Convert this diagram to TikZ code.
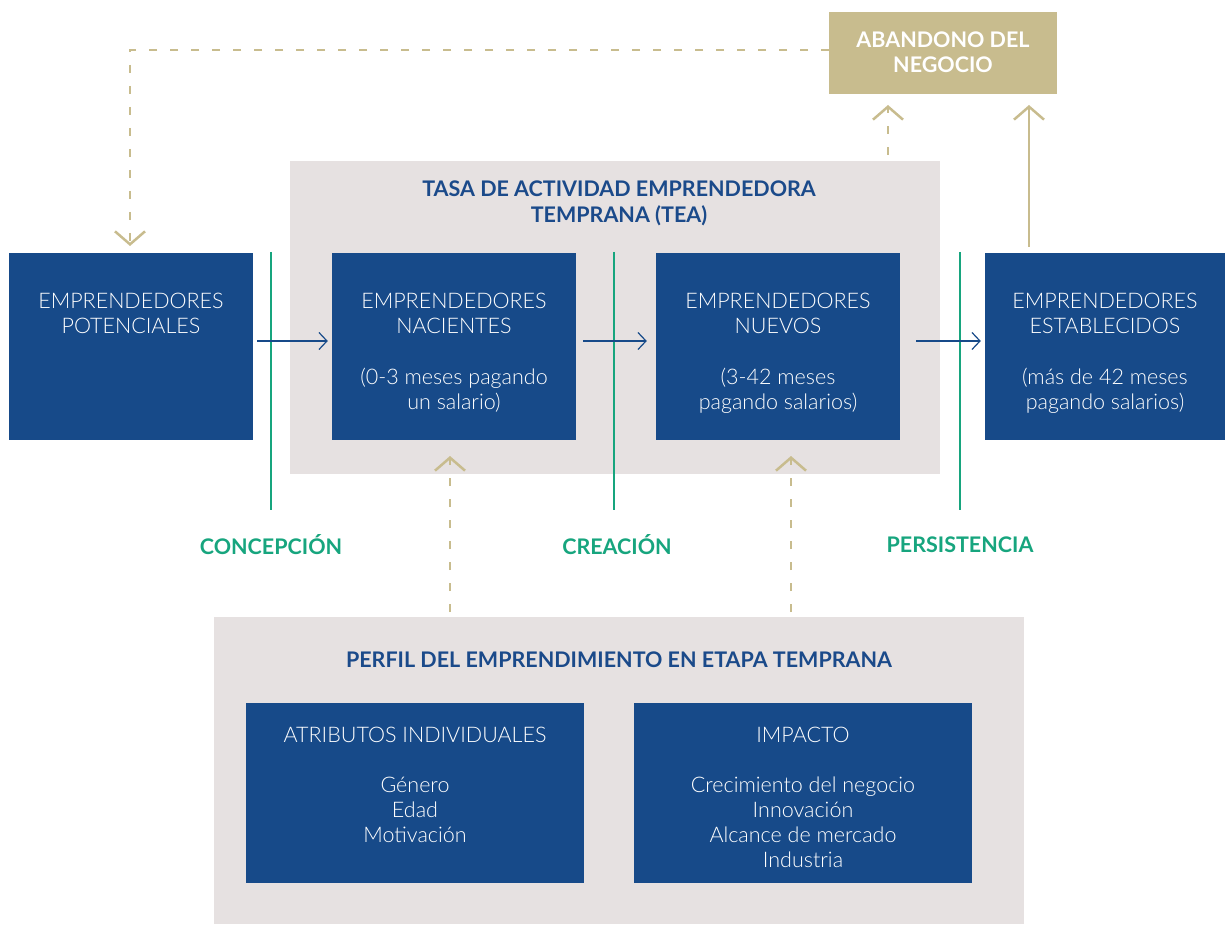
\documentclass[tikz,border=0pt]{standalone}
\usepackage{fontspec}
\setmainfont{Lato}[UprightFont=* Light, BoldFont=* Bold]
\usetikzlibrary{arrows.meta,calc}
\definecolor{boxblue}{HTML}{174A89}
\definecolor{titleblue}{HTML}{1B4A8A}
\definecolor{panelgray}{HTML}{E6E1E1}
\definecolor{gold}{HTML}{C8BC8E}
\definecolor{stagegreen}{HTML}{17A57E}
\tikzset{
  panel/.style={fill=panelgray, inner sep=0pt},
  bluebox/.style={fill=boxblue, inner sep=0pt},
  boxtext/.style={text=white, align=center, font=\fontsize{21.5}{25}\selectfont},
  paneltitle/.style={text=titleblue, align=center, font=\bfseries\fontsize{21.5}{26}\selectfont},
  stagelabel/.style={text=stagegreen, font=\bfseries\fontsize{21.5}{22}\selectfont},
  stageline/.style={draw=stagegreen, line width=2.5pt},
  flow/.style={draw=boxblue, line width=1.2pt, -{Straight Barb[length=8pt,width=17pt,line width=1.2pt]}},
  exitline/.style={draw=gold, line width=2.5pt, -{Straight Barb[length=13pt,width=30pt,line width=2.5pt]}},
  exitdash/.style={exitline, dash pattern=on 8pt off 13pt},
}
\begin{document}
\begin{tikzpicture}[x=1pt,y=-1pt]
\useasboundingbox (0,0) rectangle (1225,925);

% grey panels
\node[panel, minimum width=650pt, minimum height=313pt] (tea) at (615,317.5) {};
\node[panel, minimum width=810pt, minimum height=307pt] (perfil) at (619,770.5) {};

% stage boxes
\node[bluebox, minimum width=244pt, minimum height=187pt] (pot) at (131,346.5) {};
\node[bluebox, minimum width=244pt, minimum height=187pt] (nac) at (454,346.5) {};
\node[bluebox, minimum width=244pt, minimum height=187pt] (nue) at (778,346.5) {};
\node[bluebox, minimum width=240pt, minimum height=187pt] (est) at (1105,346.5) {};

% exit box
\node[fill=gold, minimum width=228pt, minimum height=82pt, inner sep=0pt] (ab) at (943,53) {};
\node[text=white, align=center, font=\bfseries\fontsize{21.5}{25}\selectfont] (abt) at (943,52.5) {ABANDONO DEL\\NEGOCIO};

% profile boxes
\node[bluebox, minimum width=338pt, minimum height=180pt] (atr) at (415,793) {};
\node[bluebox, minimum width=338pt, minimum height=180pt] (imp) at (803,793) {};

% panel titles
\node[paneltitle] (teat) at (619,203) {TASA DE ACTIVIDAD EMPRENDEDORA\\TEMPRANA (TEA)};
\node[paneltitle] (perfilt) at (619,660) {PERFIL DEL EMPRENDIMIENTO EN ETAPA TEMPRANA};

% box texts
\node[boxtext] (pott) at (131,313.5) {EMPRENDEDORES\\POTENCIALES};
\node[boxtext] (nact) at (454,313.5) {EMPRENDEDORES\\NACIENTES};
\node[boxtext] (nacs) at (454,390.5) {(0-3 meses pagando\\un salario)};
\node[boxtext] (nuet) at (778,313.5) {EMPRENDEDORES\\NUEVOS};
\node[boxtext] (nues) at (778,390.5) {(3-42 meses\\pagando salarios)};
\node[boxtext] (estt) at (1105,313.5) {EMPRENDEDORES\\ESTABLECIDOS};
\node[boxtext] (ests) at (1105,390.5) {(más de 42 meses\\pagando salarios)};

\node[boxtext] (atrt) at (415,735) {ATRIBUTOS INDIVIDUALES};
\node[boxtext] (atrs) at (415,810) {Género\\Edad\\Motivación};
\node[boxtext] (impt) at (803,735) {IMPACTO};
\node[boxtext] (imps) at (803,822.5) {Crecimiento del negocio\\Innovación\\Alcance de mercado\\Industria};

% stage boundaries
\coordinate (g1a) at (271,252); \coordinate (g1b) at (271,510);
\coordinate (g2a) at (614,252); \coordinate (g2b) at (614,510);
\coordinate (g3a) at (960,252); \coordinate (g3b) at (960,510);
\draw[stageline] (g1a) -- (g1b);
\draw[stageline] (g2a) -- (g2b);
\draw[stageline] (g3a) -- (g3b);
\node[stagelabel] (l1) at (271,545) {CONCEPCIÓN};
\node[stagelabel] (l2) at (617,545) {CREACIÓN};
\node[stagelabel] (l3) at (960,545) {PERSISTENCIA};

% forward flow
\draw[flow, shorten <=4pt, shorten >=4pt] (pot.east |- 0,341) -- (nac.west |- 0,341);
\draw[flow, shorten <=7pt, shorten >=9pt] (nac.east |- 0,341) -- (nue.west |- 0,341);
\draw[flow, shorten <=16pt, shorten >=4pt] (nue.east |- 0,341) -- (est.west |- 0,341);

% exits and return path
\coordinate (abl) at (829,50);
\coordinate (ret) at (130,246);
\draw[exitdash] (abl) -| (ret);
\coordinate (teaexit) at (888,155);
\coordinate (abin1) at (888,105);
\draw[exitdash] (teaexit) -- (abin1);
\coordinate (estexit) at (1029,247);
\coordinate (abin2) at (1029,105);
\draw[exitline] (estexit) -- (abin2);

% profile influences
\coordinate (pf1) at (450,612); \coordinate (pf1t) at (450,456);
\coordinate (pf2) at (791,612); \coordinate (pf2t) at (791,456);
\draw[exitdash] (pf1) -- (pf1t);
\draw[exitdash] (pf2) -- (pf2t);
\end{tikzpicture}
\end{document}
